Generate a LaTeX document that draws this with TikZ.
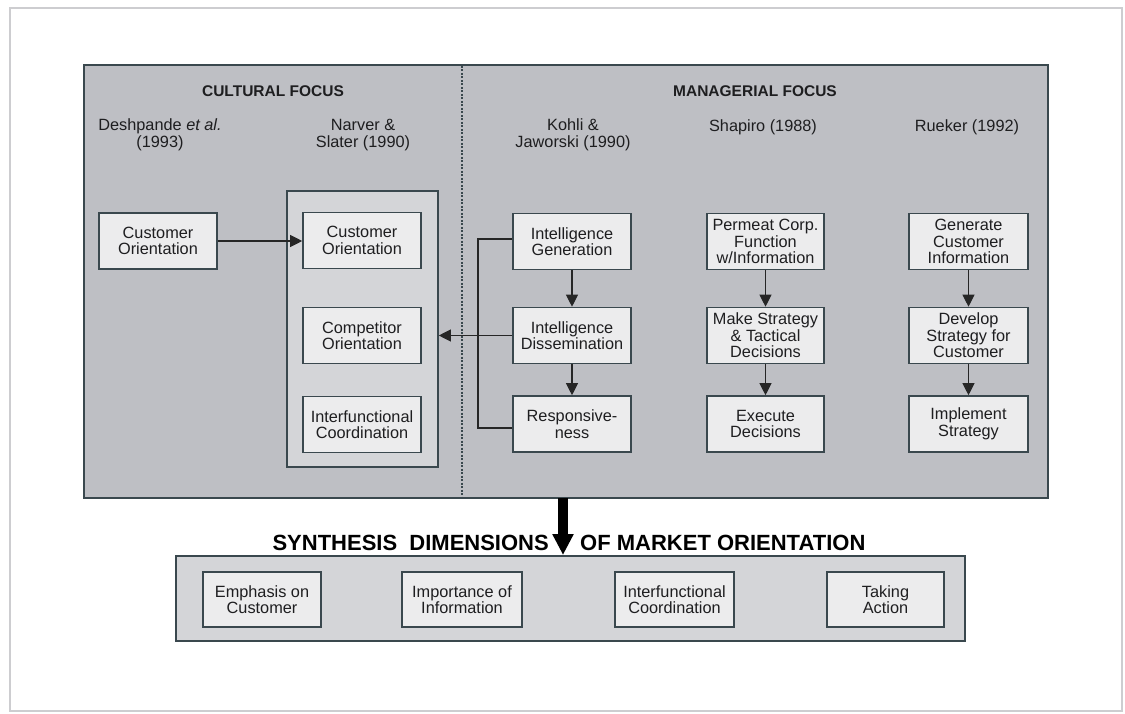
\documentclass[tikz,border=0pt]{standalone}
\usepackage{fontspec}
\setmainfont{Liberation Sans}
\usetikzlibrary{arrows.meta}
\definecolor{maingray}{RGB}{190,191,196}
\definecolor{contgray}{RGB}{212,213,216}
\definecolor{boxfill}{RGB}{236,236,237}
\definecolor{bordc}{RGB}{58,72,78}
\definecolor{txtc}{RGB}{30,30,32}
\definecolor{framec}{RGB}{205,205,208}
\tikzset{
  txt/.style={text=txtc, font=\fontsize{16.3}{16.5}\selectfont, align=center, inner sep=0pt},
  hdr/.style={text=txtc, font=\fontsize{15.5}{16}\selectfont\bfseries, inner sep=0pt},
  bx/.style={txt, draw=bordc, line width=1.6pt, fill=boxfill, minimum width=118pt, minimum height=56pt},
  ln/.style={draw=black!85, line width=1.1pt},
  arr/.style={ln, -{Triangle[length=12pt,width=12pt]}},
}
\begin{document}
\begin{tikzpicture}[x=1pt,y=-1pt]
\useasboundingbox (0,0) rectangle (1125,714);
\fill[white] (0,0) rectangle (1125,714);
% outer frame
\draw[framec, line width=2pt] (10,8) rectangle (1122,711);
% main grey panel
\node[draw=bordc, line width=1.8pt, fill=maingray, minimum width=964pt, minimum height=433pt, inner sep=0pt] (panel) at (566,281.5) {};
\draw[bordc, line width=1.2pt, dash pattern=on 2pt off 1.5pt] (462,66) -- (462,497);
% headers
\node[hdr] (cf) at (273,91) {CULTURAL FOCUS};
\node[hdr] (mf) at (755,91) {MANAGERIAL FOCUS};
\node[txt] (h1) at (160,135) {Deshpande \textit{et al.}\\(1993)};
\node[txt] (h2) at (363,135) {Narver \&\\Slater (1990)};
\node[txt] (h3) at (573,135) {Kohli \&\\Jaworski (1990)};
\node[txt] (h4) at (763,127) {Shapiro (1988)};
\node[txt] (h5) at (967,127) {Rueker (1992)};
% container
\node[draw=bordc, line width=1.6pt, fill=contgray, minimum width=151pt, minimum height=276pt, inner sep=0pt] (cont) at (362.5,329) {};
% cultural boxes
\node[bx] (co1) at (158,241) {Customer\\Orientation};
\node[bx] (co2) at (362,240.5) {Customer\\Orientation};
\node[bx] (comp) at (362,335.5) {Competitor\\Orientation};
\node[bx] (ifc) at (362,424.5) {Interfunctional\\Coordination};
% Kohli
\node[bx] (gen) at (572,241.5) {Intelligence\\Generation};
\node[bx] (dis) at (572,335.5) {Intelligence\\Dissemination};
\node[bx] (resp) at (572,424) {Responsive-\\ness};
% Shapiro
\node[bx, minimum width=117pt] (perm) at (765.5,241.5) {Permeat Corp.\\Function\\w/Information};
\node[bx, minimum width=117pt] (make) at (765.5,335.5) {Make Strategy\\\& Tactical\\Decisions};
\node[bx, minimum width=117pt] (exec) at (765.5,424) {Execute\\Decisions};
% Rueker
\node[bx, minimum width=119pt] (genc) at (968.5,241.5) {Generate\\Customer\\Information};
\node[bx, minimum width=119pt] (dev) at (968.5,335.5) {Develop\\Strategy for\\Customer};
\node[bx, minimum width=119pt] (impl) at (968.5,424) {Implement\\Strategy};
% connectors
\draw[arr] (co1.east) -- (co1.east -| co2.west);
\draw[arr] (gen) -- (dis);
\draw[arr] (dis) -- (resp);
\draw[arr] (perm) -- (make);
\draw[arr] (make) -- (exec);
\draw[arr] (genc) -- (dev);
\draw[arr] (dev) -- (impl);
\coordinate (fbt) at (478,239);
\coordinate (fbb) at (478,428);
\draw[ln] (gen.west |- fbt) -- (fbt) -- (fbb) -- (resp.west |- fbb);
\draw[arr] (dis.west) -- (dis.west -| cont.east);
% bottom section
\node[draw=bordc, line width=1.8pt, fill=contgray, minimum width=789pt, minimum height=85pt, inner sep=0pt] (bot) at (570.5,598.5) {};
\node[text=black, font=\fontsize{22}{24}\selectfont\bfseries, inner sep=0pt, anchor=east] (t1) at (549,543) {SYNTHESIS\ \ DIMENSIONS};
\node[text=black, font=\fontsize{22}{24}\selectfont\bfseries, inner sep=0pt, anchor=west] (t2) at (580,543) {OF MARKET ORIENTATION};
\node[bx, minimum height=55pt] (b1) at (262,599.5) {Emphasis on\\Customer};
\node[bx, minimum height=55pt, minimum width=120pt] (b2) at (462,599.5) {Importance of\\Information};
\node[bx, minimum height=55pt, minimum width=119pt] (b3) at (674.5,599.5) {Interfunctional\\Coordination};
\node[bx, minimum height=55pt, minimum width=117pt] (b4) at (885.5,599.5) {Taking\\Action};
% big arrow
\coordinate (bigtop) at (563,498);
\coordinate (bigtip) at (563,555);
\draw[black, line width=10pt, -{Triangle[length=21pt,width=20pt]}] (bigtop) -- (bigtip);
\end{tikzpicture}
\end{document}
